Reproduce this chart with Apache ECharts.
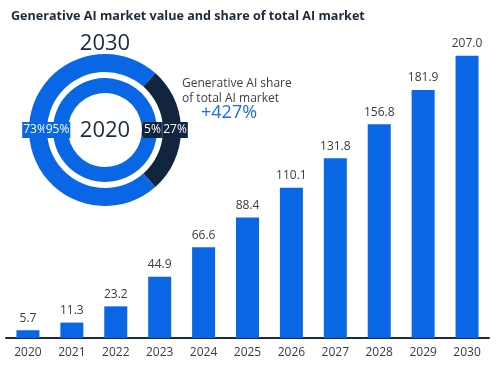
<!DOCTYPE html>
<html>
<head>
<meta charset="utf-8">
<script src="https://cdn.jsdelivr.net/npm/echarts@6/dist/echarts.min.js"></script>
<style>
  html,body{margin:0;padding:0;background:#fff;}
  #main{width:500px;height:368px;}
</style>
</head>
<body>
<div id="main"></div>
<script>
// 年份和市场规模
var years = ['2020','2021','2022','2023','2024','2025','2026','2027','2028','2029','2030'];
var marketValue = [5.7, 11.3, 23.2, 44.9, 66.6, 88.4, 110.1, 131.8, 156.8, 181.9, 207.0];
// 生成式AI占比（环形图）
var share2020 = [5, 95];
var share2030 = [27, 73];
var shareNames = ['Generative AI', 'Other AI'];

var blue = '#0966e4';
var navy = '#12253f';
var textColor = '#333c48';

var chart = echarts.init(document.getElementById('main'), null, {renderer:'canvas'});

function ringData(vals){
  var out = [];
  for(var i=0;i<vals.length;i++){
    var c = i==0?navy:blue;
    out.push({
      name:shareNames[i],
      value:vals[i],
      itemStyle:{color:c},
      label:{backgroundColor:c}
    });
  }
  return out;
}

var ringLabel = {
  show:true,
  position:'inside',
  color:'#fff',
  fontSize:12,
  padding:[2,1],
  formatter:'{c}%'
};

chart.setOption({
  animation:false,
  textStyle:{fontFamily:'Open Sans'},
  title:{
    text:'Generative AI market value and share of total AI market',
    left:6,
    top:5,
    textStyle:{
      fontSize:12.6,
      fontWeight:'bold',
      color:'#1c2a3c',
      fontFamily:'Open Sans'
    }
  },
  grid:{left:6,right:11,top:38,bottom:30,containLabel:false},
  xAxis:{
    type:'category',
    data:years,
    axisLine:{lineStyle:{color:'#1a2a40',width:2}},
    axisTick:{show:false},
    axisLabel:{color:textColor,fontSize:12,margin:9}
  },
  yAxis:{
    type:'value',
    min:0,
    max:220,
    show:false,
    splitLine:{show:false}
  },
  graphic:[
    {type:'text',style:{text:'2030',x:105,y:44,align:'center',verticalAlign:'middle',font:'22px "Open Sans"',fill:'#1c2a3c'}},
    {type:'text',style:{text:'2020',x:105,y:131,align:'center',verticalAlign:'middle',font:'22px "Open Sans"',fill:'#1c2a3c'}},
    {type:'text',style:{text:'Generative AI share\nof total AI market',x:182,y:76,lineHeight:15,font:'12px "Open Sans"',fill:'#3a3f47'}},
    {type:'text',style:{text:'+427%',x:201,y:104,font:'18px "Open Sans"',fill:'#1a6ee8'}}
  ],
  series:[
    {
      type:'bar',
      data:marketValue,
      barWidth:23,
      itemStyle:{color:blue},
      label:{
        show:true,
        position:'top',
        distance:6,
        color:textColor,
        fontSize:12,
        formatter:function(p){return p.value.toFixed(1);}
      }
    },
    {
      type:'pie',
      center:[105,130],
      radius:[58,76],
      startAngle:48.6,
      silent:true,
      avoidLabelOverlap:false,
      labelLayout:{hideOverlap:false},
      label:ringLabel,
      labelLine:{show:false},
      data:ringData(share2030)
    },
    {
      type:'pie',
      center:[105,130],
      radius:[37,52],
      startAngle:9,
      silent:true,
      avoidLabelOverlap:false,
      labelLayout:{hideOverlap:false},
      label:ringLabel,
      labelLine:{show:false},
      data:ringData(share2020)
    }
  ]
});
</script>
</body>
</html>
